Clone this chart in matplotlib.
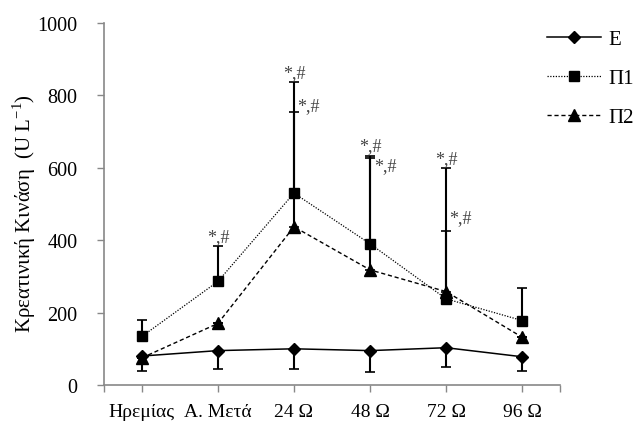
import numpy as np
import matplotlib
matplotlib.use('Agg')
import matplotlib.pyplot as plt

plt.rcParams['font.family'] = ['Liberation Serif', 'DejaVu Serif']
plt.rcParams['mathtext.fontset'] = 'custom'
plt.rcParams['mathtext.rm'] = 'Liberation Serif'

# Data
labels = ['Ηρεμίας', 'Α. Μετά', '24 Ω', '48 Ω', '72 Ω', '96 Ω']
E = [80, 95, 100, 95, 103, 78]
E_err_low = [40, 51, 56, 60, 54, 38]
P1 = [134, 286, 530, 390, 238, 178]
P1_err_up = [46, 97, 306, 243, 188, 89]
P2 = [75, 170, 437, 318, 258, 132]
P2_err_up = [0, 0, 316, 308, 340, 0]

# significance marks: (category index, value, placement)
marks = [(1, 383, 'top'), (2, 836, 'top'), (2, 753, 'side'),
         (3, 633, 'top'), (3, 626, 'side2'), (4, 598, 'top'), (4, 426, 'side3')]

x = np.arange(len(labels))

fig = plt.figure(figsize=(6.33, 4.27), dpi=100)
ax = fig.add_axes([0.164, 0.096, 0.721, 0.848])

zero = np.zeros(len(labels))
ax.errorbar(x, E, yerr=[E_err_low, zero], fmt='none', ecolor='black',
            elinewidth=1.5, capsize=3.5, capthick=1.2, zorder=2)
ax.errorbar(x, P1, yerr=[zero, P1_err_up], fmt='none', ecolor='black',
            elinewidth=1.5, capsize=3.5, capthick=1.2, zorder=2)
ax.errorbar(x, P2, yerr=[zero, P2_err_up], fmt='none', ecolor='black',
            elinewidth=1.5, capsize=3.5, capthick=1.2, zorder=2)

ax.plot(x, E, color='black', lw=1.1, ls='-', marker='D', ms=6.5, label='Ε', zorder=3)
ax.plot(x, P1, color='black', lw=0.9, ls=(0, (1, 1.2)), marker='s', ms=7.5, label='Π1', zorder=3)
ax.plot(x, P2, color='black', lw=1.0, ls=(0, (3, 2)), marker='^', ms=8, label='Π2', zorder=3)

fs_mark = 13
for i, v, kind in marks:
    if kind == 'top':
        ax.annotate('*,#', (x[i], v), xytext=(0, 1), textcoords='offset points',
                    ha='center', va='bottom', fontsize=fs_mark, color='#444444')
    elif kind == 'side':
        ax.annotate('*,#', (x[i], v), xytext=(2, -1), textcoords='offset points',
                    ha='left', va='bottom', fontsize=fs_mark, color='#444444')
    elif kind == 'side2':
        ax.annotate('*,#', (x[i], v), xytext=(3, -5), textcoords='offset points',
                    ha='left', va='center', fontsize=fs_mark, color='#444444')
    else:
        ax.annotate('*,#', (x[i], v), xytext=(2, 3), textcoords='offset points',
                    ha='left', va='bottom', fontsize=fs_mark, color='#444444')

ax.set_xlim(-0.5, 5.5)
ax.set_ylim(0, 1000)
ax.set_yticks(range(0, 1001, 200))
ax.set_xticks(x)
ax.set_xticks([-0.5, 5.5], minor=True)
ax.set_xticklabels(labels)
ax.tick_params(axis='both', which='both', color='#888888', length=5, width=1)
ax.tick_params(axis='x', labelsize=14, pad=8)
ax.tick_params(axis='y', labelsize=14.5, pad=14)
for s in ['top', 'right']:
    ax.spines[s].set_visible(False)
for s in ['left', 'bottom']:
    ax.spines[s].set_color('#888888')
    ax.spines[s].set_linewidth(1.2)

ax.set_ylabel('Κρεατινική Κινάση  (U L$^{\\mathregular{-1}}$)', fontsize=15, labelpad=4)
ax.yaxis.set_label_coords(-0.145, 0.475)

fig.legend(loc='upper left', bbox_to_anchor=(0.864, 0.928), frameon=False,
           fontsize=15, handlelength=2.6, labelspacing=0.93, handletextpad=0.35,
           borderaxespad=0, borderpad=0)

fig.savefig('out.png', dpi=100)
